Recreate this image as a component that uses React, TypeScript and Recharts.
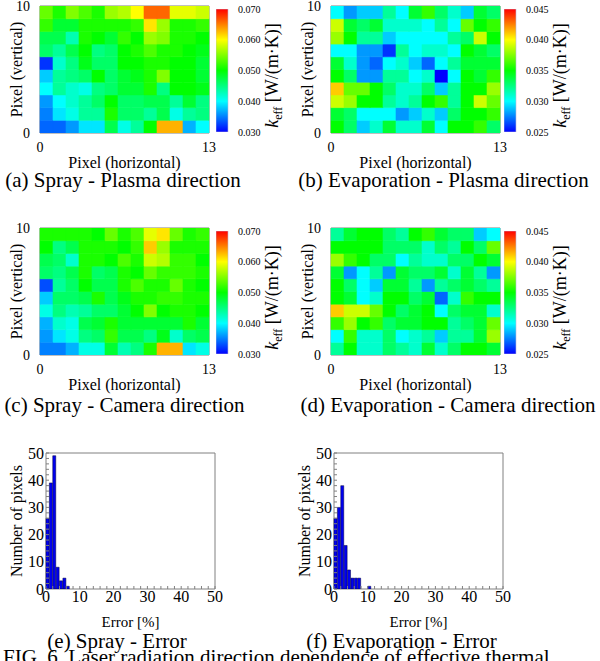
import React from "react";
import { BarChart, Bar, Cell, XAxis, YAxis, ReferenceArea } from "recharts";

const serif = "'Liberation Serif', 'DejaVu Serif', serif";

// pixel grid: 13 columns x 10 rows, rows listed from top (9) to bottom (0)
const pixelCols = [0, 1, 2, 3, 4, 5, 6, 7, 8, 9, 10, 11, 12];
const pixelRows = [0, 1, 2, 3, 4, 5, 6, 7, 8, 9];

const sprayPlasma = [
  [0.054, 0.051, 0.055, 0.053, 0.051, 0.056, 0.057, 0.060, 0.066, 0.066, 0.059, 0.059, 0.058],
  [0.052, 0.048, 0.048, 0.051, 0.051, 0.051, 0.051, 0.052, 0.061, 0.056, 0.051, 0.051, 0.052],
  [0.047, 0.047, 0.043, 0.051, 0.050, 0.048, 0.052, 0.050, 0.056, 0.055, 0.051, 0.051, 0.050],
  [0.046, 0.044, 0.047, 0.050, 0.045, 0.046, 0.050, 0.051, 0.053, 0.051, 0.051, 0.050, 0.049],
  [0.032, 0.042, 0.045, 0.049, 0.046, 0.046, 0.050, 0.050, 0.051, 0.051, 0.050, 0.050, 0.048],
  [0.038, 0.044, 0.045, 0.046, 0.050, 0.046, 0.048, 0.049, 0.051, 0.055, 0.050, 0.050, 0.048],
  [0.040, 0.044, 0.042, 0.041, 0.045, 0.046, 0.048, 0.048, 0.051, 0.045, 0.050, 0.050, 0.049],
  [0.036, 0.040, 0.042, 0.044, 0.046, 0.050, 0.046, 0.046, 0.047, 0.047, 0.044, 0.048, 0.045],
  [0.035, 0.039, 0.041, 0.044, 0.044, 0.051, 0.046, 0.046, 0.044, 0.047, 0.041, 0.044, 0.045],
  [0.034, 0.034, 0.036, 0.039, 0.039, 0.047, 0.041, 0.044, 0.050, 0.063, 0.063, 0.037, 0.040],
];

const evapPlasma = [
  [0.030, 0.028, 0.029, 0.029, 0.032, 0.030, 0.034, 0.036, 0.033, 0.031, 0.029, 0.034, 0.033],
  [0.039, 0.034, 0.033, 0.034, 0.031, 0.031, 0.031, 0.030, 0.032, 0.030, 0.037, 0.035, 0.036],
  [0.038, 0.035, 0.032, 0.032, 0.029, 0.030, 0.030, 0.030, 0.030, 0.032, 0.033, 0.039, 0.035],
  [0.030, 0.030, 0.028, 0.028, 0.026, 0.032, 0.030, 0.031, 0.031, 0.030, 0.035, 0.034, 0.033],
  [0.034, 0.031, 0.028, 0.027, 0.030, 0.031, 0.029, 0.027, 0.030, 0.032, 0.034, 0.034, 0.034],
  [0.035, 0.033, 0.028, 0.028, 0.032, 0.032, 0.030, 0.031, 0.025, 0.030, 0.035, 0.034, 0.036],
  [0.041, 0.037, 0.037, 0.035, 0.033, 0.031, 0.031, 0.033, 0.029, 0.032, 0.035, 0.035, 0.038],
  [0.039, 0.038, 0.035, 0.035, 0.032, 0.031, 0.032, 0.035, 0.036, 0.032, 0.035, 0.039, 0.037],
  [0.034, 0.033, 0.030, 0.030, 0.030, 0.028, 0.029, 0.031, 0.029, 0.033, 0.035, 0.035, 0.036],
  [0.035, 0.033, 0.029, 0.031, 0.034, 0.031, 0.031, 0.034, 0.030, 0.035, 0.035, 0.036, 0.033],
];

const sprayCamera = [
  [0.051, 0.051, 0.051, 0.051, 0.050, 0.054, 0.051, 0.053, 0.059, 0.061, 0.054, 0.051, 0.052],
  [0.050, 0.045, 0.047, 0.051, 0.051, 0.051, 0.050, 0.052, 0.062, 0.056, 0.051, 0.051, 0.051],
  [0.047, 0.046, 0.042, 0.051, 0.051, 0.050, 0.053, 0.051, 0.058, 0.057, 0.052, 0.052, 0.050],
  [0.046, 0.045, 0.047, 0.051, 0.046, 0.047, 0.051, 0.050, 0.054, 0.052, 0.052, 0.052, 0.051],
  [0.033, 0.044, 0.046, 0.050, 0.047, 0.047, 0.051, 0.053, 0.051, 0.051, 0.054, 0.051, 0.050],
  [0.038, 0.046, 0.046, 0.047, 0.051, 0.047, 0.049, 0.051, 0.051, 0.052, 0.052, 0.051, 0.051],
  [0.041, 0.045, 0.043, 0.044, 0.046, 0.046, 0.048, 0.050, 0.055, 0.050, 0.051, 0.051, 0.050],
  [0.037, 0.042, 0.041, 0.047, 0.048, 0.051, 0.048, 0.048, 0.048, 0.048, 0.048, 0.051, 0.048],
  [0.036, 0.039, 0.041, 0.045, 0.046, 0.052, 0.047, 0.047, 0.045, 0.049, 0.042, 0.046, 0.047],
  [0.035, 0.035, 0.037, 0.041, 0.041, 0.048, 0.043, 0.045, 0.051, 0.063, 0.063, 0.039, 0.041],
];

const evapCamera = [
  [0.032, 0.034, 0.035, 0.035, 0.033, 0.032, 0.035, 0.036, 0.034, 0.033, 0.033, 0.029, 0.030],
  [0.035, 0.035, 0.035, 0.035, 0.033, 0.033, 0.033, 0.031, 0.033, 0.032, 0.035, 0.033, 0.037],
  [0.038, 0.036, 0.035, 0.033, 0.033, 0.030, 0.032, 0.031, 0.031, 0.033, 0.033, 0.035, 0.034],
  [0.034, 0.028, 0.030, 0.032, 0.028, 0.034, 0.033, 0.033, 0.034, 0.031, 0.034, 0.032, 0.028],
  [0.035, 0.033, 0.030, 0.029, 0.034, 0.034, 0.032, 0.028, 0.032, 0.033, 0.034, 0.033, 0.032],
  [0.035, 0.034, 0.030, 0.031, 0.035, 0.035, 0.033, 0.034, 0.027, 0.031, 0.036, 0.035, 0.035],
  [0.041, 0.039, 0.039, 0.037, 0.035, 0.033, 0.034, 0.035, 0.030, 0.033, 0.034, 0.034, 0.031],
  [0.036, 0.038, 0.035, 0.036, 0.033, 0.034, 0.034, 0.035, 0.035, 0.032, 0.033, 0.034, 0.037],
  [0.030, 0.036, 0.031, 0.031, 0.033, 0.030, 0.031, 0.032, 0.029, 0.032, 0.032, 0.034, 0.038],
  [0.032, 0.035, 0.031, 0.031, 0.033, 0.032, 0.031, 0.034, 0.031, 0.033, 0.035, 0.035, 0.034],
];

const sprayTicks = [0.03, 0.04, 0.05, 0.06, 0.07];
const evapTicks = [0.025, 0.03, 0.035, 0.04, 0.045];

// error histograms, 1 % bins starting at 0
const sprayErrorCounts = [26, 39, 49, 8, 3, 4, 1];
const evapErrorCounts = [26, 30, 38, 16, 7, 4, 4, 4, 0, 0, 1];
const errorBins = Array.from({ length: 50 }, (_, i) => i);
const errorTicks = [0, 2, 4, 6, 8, 10, 12, 14, 16, 18, 20, 22, 24, 26, 28, 30, 32, 34, 36, 38, 40, 42, 44, 46, 48, 50];

const jet = (v: number, min: number, max: number) => {
  const t = Math.max(0, Math.min(1, (v - min) / (max - min)));
  return `hsl(${240 * (1 - t)}, 100%, 50%)`;
};

const xLabel = (text: string, dy: number, size: number) => (props: any) => {
  const { x, y, width } = props.viewBox;
  return (
    <text x={x + width / 2} y={y + dy} textAnchor="middle" fontSize={size} fontFamily={serif} fill="#000">
      {text}
    </text>
  );
};

const yLabel = (text: string, off: number, size: number) => (props: any) => {
  const { x, y, width, height } = props.viewBox;
  const bx = x + width - off;
  const cy = y + height / 2;
  return (
    <text x={bx} y={cy} transform={`rotate(-90 ${bx} ${cy})`} textAnchor="middle" fontSize={size} fontFamily={serif} fill="#000">
      {text}
    </text>
  );
};

const kLabel = (props: any) => {
  const { x, y, height } = props.viewBox;
  const bx = x + 50;
  const cy = y + height / 2 + 5;
  return (
    <text x={bx} y={cy} transform={`rotate(-90 ${bx} ${cy})`} textAnchor="middle" fontSize={18} fontFamily={serif} fill="#000">
      <tspan fontStyle="italic">k</tspan>
      <tspan fontSize={12} dy={4}>eff</tspan>
      <tspan dy={-4}> [W/(m·K)]</tspan>
    </text>
  );
};

const tickFont = { fontSize: 14, fill: "#000", fontFamily: serif };

function Heatmap({ grid, min, max, left, top }: { grid: number[][]; min: number; max: number; left: number; top: number }) {
  // each column also carries its [left, right] pixel edges for the numeric axis
  const data = pixelCols.map((c) => {
    const row: Record<string, any> = { col: c, edge: [c, c + 1] };
    pixelRows.forEach((r) => (row[`r${r}`] = 1));
    return row;
  });
  return (
    <div style={{ position: "absolute", left, top }}>
      <BarChart width={40 + 169 + 12} height={10 + 127 + 40} data={data}
        margin={{ top: 10, right: 12, bottom: 0, left: 0 }} barCategoryGap={0} barGap={0}>
        <XAxis xAxisId="num" dataKey="edge" type="number" domain={[0, 13]} ticks={[0, 13]} interval={0} allowDataOverflow
          height={40} axisLine={false} tickLine={false} tickMargin={3} tick={tickFont}
          label={xLabel("Pixel (horizontal)", 35, 16)} />
        <XAxis xAxisId="cat" dataKey="col" type="category" hide height={0} />
        <YAxis type="number" domain={[0, 10]} ticks={[0, 10]} interval={0} allowDataOverflow width={40}
          axisLine={false} tickLine={false} tickMargin={4} tick={tickFont}
          label={yLabel("Pixel (vertical)", 18, 16)} />
        {pixelRows.map((r) => (
          <Bar key={r} xAxisId="cat" dataKey={`r${r}`} stackId="px" isAnimationActive={false}>
            {pixelCols.map((c) => {
              const col = jet(grid[9 - r][c], min, max);
              return <Cell key={c} fill={col} stroke={col} strokeWidth={0.6} />;
            })}
          </Bar>
        ))}
        <ReferenceArea xAxisId="num" x1={0} x2={13} y1={0} y2={10} fill="none" stroke="#808080" strokeWidth={1} ifOverflow="visible" />
      </BarChart>
    </div>
  );
}

function ColorBar({ ticks, left, top, id }: { ticks: number[]; left: number; top: number; id: string }) {
  const min = ticks[0];
  const max = ticks[ticks.length - 1];
  return (
    <div style={{ position: "absolute", left, top }}>
      <BarChart width={12 + 70} height={10 + 123 + 10} data={[{ name: "k", span: [min, max] }]}
        margin={{ top: 10, right: 0, bottom: 10, left: 0 }} barCategoryGap={0}>
        <defs>
          <linearGradient id={id} x1="0" y1="1" x2="0" y2="0">
            <stop offset="0" stopColor="#0000ff" />
            <stop offset="0.25" stopColor="#00ffff" />
            <stop offset="0.5" stopColor="#00ff00" />
            <stop offset="0.75" stopColor="#ffff00" />
            <stop offset="1" stopColor="#ff0000" />
          </linearGradient>
        </defs>
        <XAxis dataKey="name" hide height={0} />
        <YAxis orientation="right" type="number" domain={[min, max]} ticks={ticks} interval={0} allowDataOverflow
          width={70} axisLine={false} tickLine={false} tickMargin={4}
          tickFormatter={(v: number) => v.toFixed(3)}
          tick={{ fontSize: 10, fill: "#000", fontFamily: serif, textAnchor: "start" }}
          label={kLabel} />
        <Bar dataKey="span" fill={`url(#${id})`} stroke="#b8b8d8" strokeWidth={0.6} isAnimationActive={false} />
      </BarChart>
    </div>
  );
}

function ErrorHistogram({ counts, left, top }: { counts: number[]; left: number; top: number }) {
  const data = errorBins.map((b, i) => ({ bin: b, edge: [b, b + 1], count: counts[i] ?? 0 }));
  const fmt = (v: number) => (v % 10 === 0 ? String(v) : "");
  const histFont = { fontSize: 16, fill: "#000", fontFamily: serif };
  return (
    <div style={{ position: "absolute", left, top }}>
      <BarChart width={46 + 169 + 12} height={10 + 136 + 45} data={data}
        margin={{ top: 10, right: 12, bottom: 0, left: 0 }} barCategoryGap={0} barGap={0}>
        <XAxis xAxisId="num" dataKey="edge" type="number" domain={[0, 50]} ticks={errorTicks} interval={0} allowDataOverflow
          height={45} axisLine={false} tickSize={-3} tickMargin={5} tickLine={{ stroke: "#808080" }}
          tickFormatter={fmt} tick={histFont} label={xLabel("Error [%]", 38, 15)} />
        <XAxis xAxisId="cat" dataKey="bin" type="category" hide height={0} />
        <XAxis xAxisId="top" orientation="top" dataKey="edge" type="number" domain={[0, 50]} ticks={errorTicks} interval={0}
          allowDataOverflow height={0} axisLine={false} tick={false} tickSize={-3} tickLine={{ stroke: "#808080" }} />
        <YAxis type="number" domain={[0, 50]} ticks={errorTicks} interval={0} allowDataOverflow width={46}
          axisLine={false} tickSize={-3} tickMargin={5} tickLine={{ stroke: "#808080" }}
          tickFormatter={fmt} tick={histFont} label={yLabel("Number of pixels", 24, 16)} />
        <YAxis yAxisId="right" orientation="right" type="number" domain={[0, 50]} ticks={errorTicks} interval={0}
          allowDataOverflow width={0} axisLine={false} tick={false} tickSize={-3} tickLine={{ stroke: "#808080" }} />
        <Bar xAxisId="cat" dataKey="count" fill="#0000f0" stroke="#00003c" strokeWidth={0.5} isAnimationActive={false} />
        <ReferenceArea xAxisId="num" x1={0} x2={50} y1={0} y2={50} fill="none" stroke="#808080" strokeWidth={1} ifOverflow="visible" />
      </BarChart>
    </div>
  );
}

const captionStyle = (cx: number, baseline: number): React.CSSProperties => ({
  position: "absolute",
  left: cx - 160,
  width: 320,
  top: baseline - 15.1,
  textAlign: "center",
  fontFamily: serif,
  fontSize: 21,
  lineHeight: "16px",
  color: "#000",
  whiteSpace: "nowrap",
});

export default function App() {
  return (
    <div style={{ position: "absolute", left: 0, top: 0, width: 600, height: 661, overflow: "hidden", background: "#fff" }}>
      <Heatmap grid={sprayPlasma} min={0.03} max={0.07} left={0} top={-4} />
      <ColorBar ticks={sprayTicks} left={216} top={-1} id="cbA" />
      <Heatmap grid={evapPlasma} min={0.025} max={0.045} left={291} top={-4} />
      <ColorBar ticks={evapTicks} left={504} top={-1} id="cbB" />
      <Heatmap grid={sprayCamera} min={0.03} max={0.07} left={0} top={218} />
      <ColorBar ticks={sprayTicks} left={216} top={221} id="cbC" />
      <Heatmap grid={evapCamera} min={0.025} max={0.045} left={291} top={218} />
      <ColorBar ticks={evapTicks} left={504} top={221} id="cbD" />
      <ErrorHistogram counts={sprayErrorCounts} left={0} top={443} />
      <ErrorHistogram counts={evapErrorCounts} left={288} top={443} />

      <div style={captionStyle(123, 187)}>(a) Spray - Plasma direction</div>
      <div style={captionStyle(443.5, 187)}>(b) Evaporation - Plasma direction</div>
      <div style={captionStyle(124.5, 412)}>(c) Spray - Camera direction</div>
      <div style={captionStyle(448, 412)}>(d) Evaporation - Camera direction</div>
      <div style={captionStyle(117, 648)}>(e) Spray - Error</div>
      <div style={captionStyle(401.5, 648)}>(f) Evaporation - Error</div>
      <div style={{ ...captionStyle(300, 664), left: 3, width: 600, textAlign: "left" }}>
        FIG. 6. Laser radiation direction dependence of effective thermal
      </div>
    </div>
  );
}
